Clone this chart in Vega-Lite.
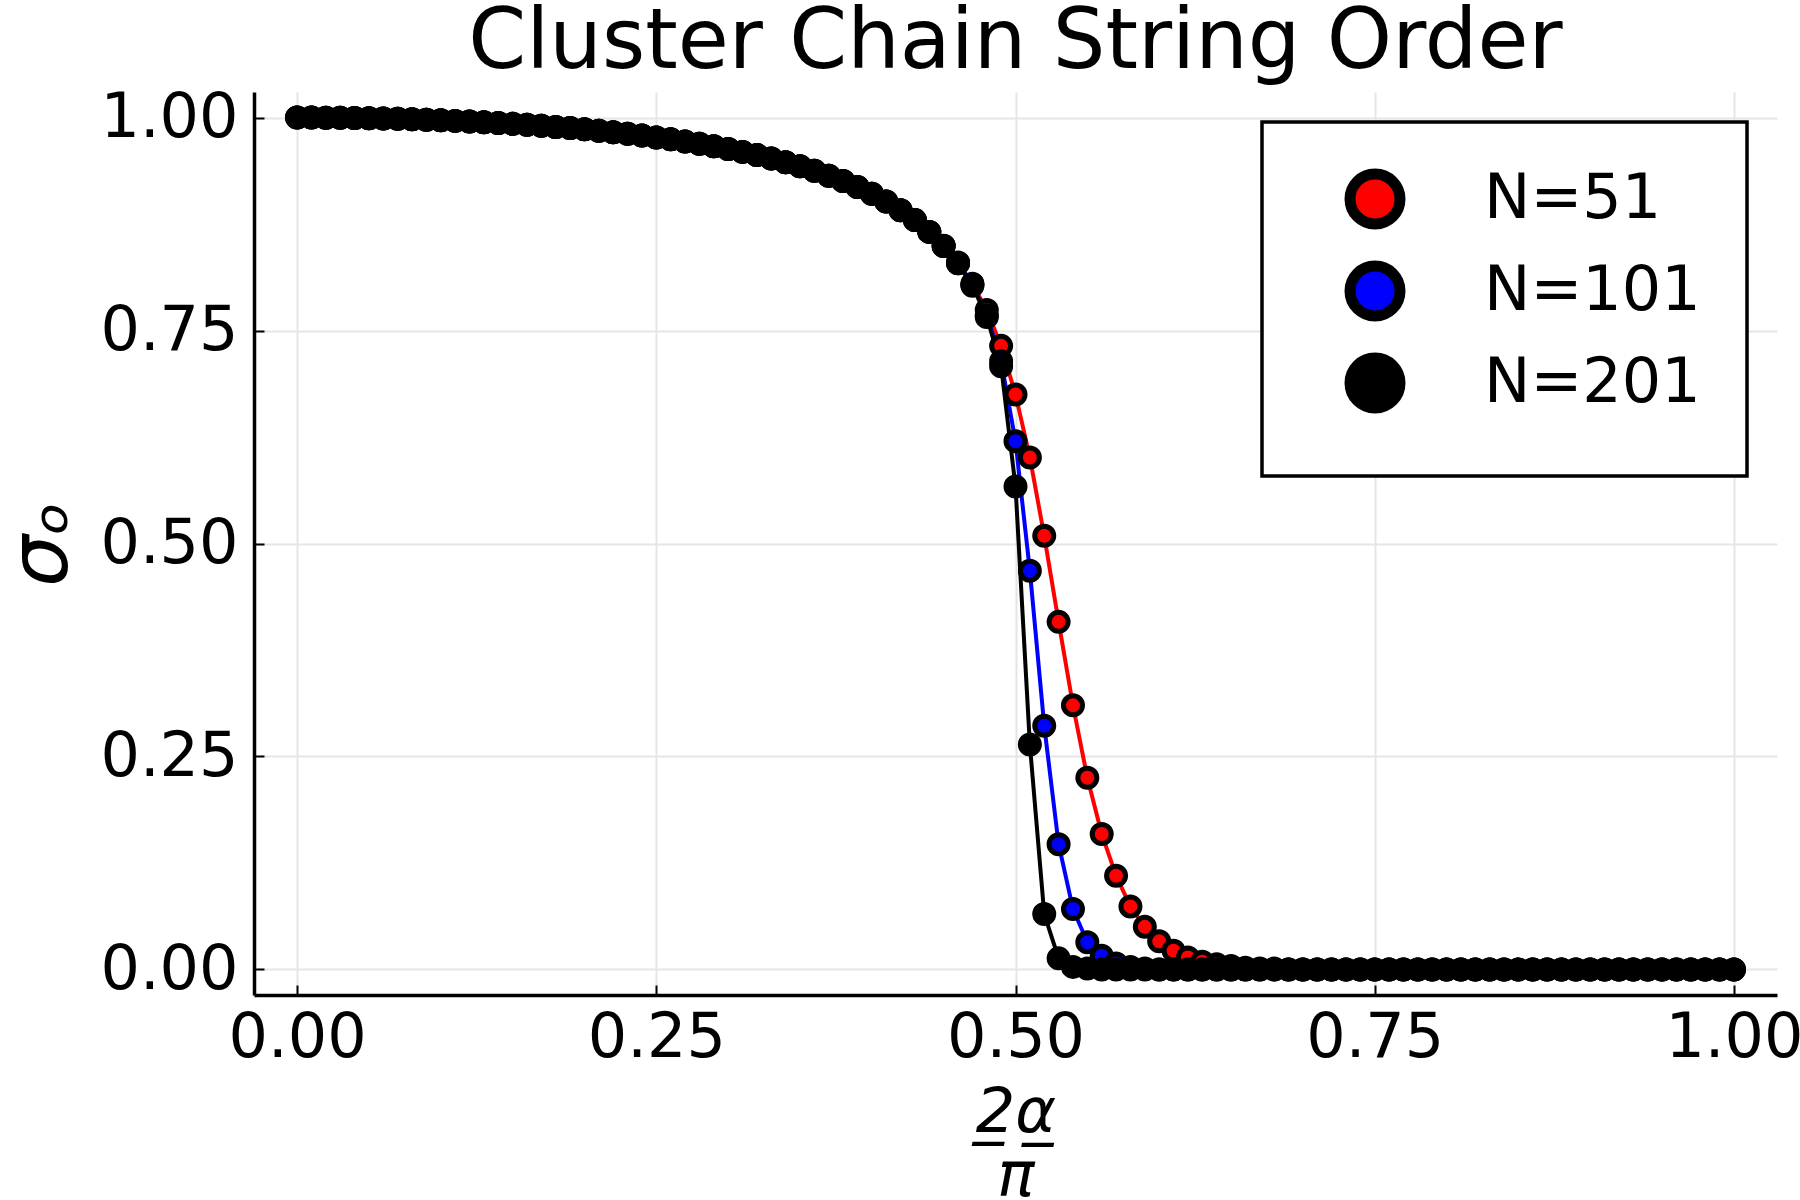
{
  "$schema": "https://vega.github.io/schema/vega-lite/v6.json",
  "description": "Cluster chain string order parameter vs 2alpha/pi for three chain lengths",
  "width": 1523,
  "height": 903,
  "autosize": "none",
  "padding": {"left": 254, "top": 92, "right": 23, "bottom": 205},
  "background": "white",
  "config": {
    "view": {"stroke": null},
    "font": "DejaVu Sans",
    "legend": {"strokeColor": "black", "strokeWidth": 3.5, "fillColor": "white", "cornerRadius": 0}
  },
  "title": {
    "text": "Cluster Chain String Order",
    "font": "DejaVu Sans",
    "fontSize": 83,
    "fontWeight": "normal",
    "color": "black",
    "anchor": "middle",
    "offset": 2
  },
  "data": {
    "values": [
      {"N":"N=51","x":0.00,"sigma":1},{"N":"N=51","x":0.01,"sigma":1},{"N":"N=51","x":0.02,"sigma":0.9999},{"N":"N=51","x":0.03,"sigma":0.9997},{"N":"N=51","x":0.04,"sigma":0.9995},
      {"N":"N=51","x":0.05,"sigma":0.9992},{"N":"N=51","x":0.06,"sigma":0.9989},{"N":"N=51","x":0.07,"sigma":0.9985},{"N":"N=51","x":0.08,"sigma":0.998},{"N":"N=51","x":0.09,"sigma":0.9974},
      {"N":"N=51","x":0.10,"sigma":0.9968},{"N":"N=51","x":0.11,"sigma":0.9961},{"N":"N=51","x":0.12,"sigma":0.9954},{"N":"N=51","x":0.13,"sigma":0.9945},{"N":"N=51","x":0.14,"sigma":0.9936},
      {"N":"N=51","x":0.15,"sigma":0.9926},{"N":"N=51","x":0.16,"sigma":0.9915},{"N":"N=51","x":0.17,"sigma":0.9903},{"N":"N=51","x":0.18,"sigma":0.989},{"N":"N=51","x":0.19,"sigma":0.9877},
      {"N":"N=51","x":0.20,"sigma":0.9862},{"N":"N=51","x":0.21,"sigma":0.9845},{"N":"N=51","x":0.22,"sigma":0.9828},{"N":"N=51","x":0.23,"sigma":0.9809},{"N":"N=51","x":0.24,"sigma":0.9789},
      {"N":"N=51","x":0.25,"sigma":0.9767},{"N":"N=51","x":0.26,"sigma":0.9744},{"N":"N=51","x":0.27,"sigma":0.9719},{"N":"N=51","x":0.28,"sigma":0.9692},{"N":"N=51","x":0.29,"sigma":0.9663},
      {"N":"N=51","x":0.30,"sigma":0.9631},{"N":"N=51","x":0.31,"sigma":0.9597},{"N":"N=51","x":0.32,"sigma":0.956},{"N":"N=51","x":0.33,"sigma":0.952},{"N":"N=51","x":0.34,"sigma":0.9476},
      {"N":"N=51","x":0.35,"sigma":0.9429},{"N":"N=51","x":0.36,"sigma":0.9376},{"N":"N=51","x":0.37,"sigma":0.9318},{"N":"N=51","x":0.38,"sigma":0.9255},{"N":"N=51","x":0.39,"sigma":0.9184},
      {"N":"N=51","x":0.40,"sigma":0.9105},{"N":"N=51","x":0.41,"sigma":0.9015},{"N":"N=51","x":0.42,"sigma":0.8913},{"N":"N=51","x":0.43,"sigma":0.8796},{"N":"N=51","x":0.44,"sigma":0.8658},
      {"N":"N=51","x":0.45,"sigma":0.8495},{"N":"N=51","x":0.46,"sigma":0.830},{"N":"N=51","x":0.47,"sigma":0.805},{"N":"N=51","x":0.48,"sigma":0.774},{"N":"N=51","x":0.49,"sigma":0.732},
      {"N":"N=51","x":0.50,"sigma":0.675},{"N":"N=51","x":0.51,"sigma":0.601},{"N":"N=51","x":0.52,"sigma":0.509},{"N":"N=51","x":0.53,"sigma":0.408},{"N":"N=51","x":0.54,"sigma":0.310},
      {"N":"N=51","x":0.55,"sigma":0.225},{"N":"N=51","x":0.56,"sigma":0.159},{"N":"N=51","x":0.57,"sigma":0.110},{"N":"N=51","x":0.58,"sigma":0.074},{"N":"N=51","x":0.59,"sigma":0.050},
      {"N":"N=51","x":0.60,"sigma":0.033},{"N":"N=51","x":0.61,"sigma":0.022},{"N":"N=51","x":0.62,"sigma":0.014},{"N":"N=51","x":0.63,"sigma":0.009},{"N":"N=51","x":0.64,"sigma":0.006},
      {"N":"N=51","x":0.65,"sigma":0.004},{"N":"N=51","x":0.66,"sigma":0.002},{"N":"N=51","x":0.67,"sigma":0.001},{"N":"N=51","x":0.68,"sigma":0.001},{"N":"N=51","x":0.69,"sigma":0},
      {"N":"N=51","x":0.70,"sigma":0},{"N":"N=51","x":0.71,"sigma":0},{"N":"N=51","x":0.72,"sigma":0},{"N":"N=51","x":0.73,"sigma":0},{"N":"N=51","x":0.74,"sigma":0},
      {"N":"N=51","x":0.75,"sigma":0},{"N":"N=51","x":0.76,"sigma":0},{"N":"N=51","x":0.77,"sigma":0},{"N":"N=51","x":0.78,"sigma":0},{"N":"N=51","x":0.79,"sigma":0},
      {"N":"N=51","x":0.80,"sigma":0},{"N":"N=51","x":0.81,"sigma":0},{"N":"N=51","x":0.82,"sigma":0},{"N":"N=51","x":0.83,"sigma":0},{"N":"N=51","x":0.84,"sigma":0},
      {"N":"N=51","x":0.85,"sigma":0},{"N":"N=51","x":0.86,"sigma":0},{"N":"N=51","x":0.87,"sigma":0},{"N":"N=51","x":0.88,"sigma":0},{"N":"N=51","x":0.89,"sigma":0},
      {"N":"N=51","x":0.90,"sigma":0},{"N":"N=51","x":0.91,"sigma":0},{"N":"N=51","x":0.92,"sigma":0},{"N":"N=51","x":0.93,"sigma":0},{"N":"N=51","x":0.94,"sigma":0},
      {"N":"N=51","x":0.95,"sigma":0},{"N":"N=51","x":0.96,"sigma":0},{"N":"N=51","x":0.97,"sigma":0},{"N":"N=51","x":0.98,"sigma":0},{"N":"N=51","x":0.99,"sigma":0},
      {"N":"N=51","x":1.00,"sigma":0},

      {"N":"N=101","x":0.00,"sigma":1},{"N":"N=101","x":0.01,"sigma":1},{"N":"N=101","x":0.02,"sigma":0.9999},{"N":"N=101","x":0.03,"sigma":0.9997},{"N":"N=101","x":0.04,"sigma":0.9995},
      {"N":"N=101","x":0.05,"sigma":0.9992},{"N":"N=101","x":0.06,"sigma":0.9989},{"N":"N=101","x":0.07,"sigma":0.9985},{"N":"N=101","x":0.08,"sigma":0.998},{"N":"N=101","x":0.09,"sigma":0.9974},
      {"N":"N=101","x":0.10,"sigma":0.9968},{"N":"N=101","x":0.11,"sigma":0.9961},{"N":"N=101","x":0.12,"sigma":0.9954},{"N":"N=101","x":0.13,"sigma":0.9945},{"N":"N=101","x":0.14,"sigma":0.9936},
      {"N":"N=101","x":0.15,"sigma":0.9926},{"N":"N=101","x":0.16,"sigma":0.9915},{"N":"N=101","x":0.17,"sigma":0.9903},{"N":"N=101","x":0.18,"sigma":0.989},{"N":"N=101","x":0.19,"sigma":0.9877},
      {"N":"N=101","x":0.20,"sigma":0.9862},{"N":"N=101","x":0.21,"sigma":0.9845},{"N":"N=101","x":0.22,"sigma":0.9828},{"N":"N=101","x":0.23,"sigma":0.9809},{"N":"N=101","x":0.24,"sigma":0.9789},
      {"N":"N=101","x":0.25,"sigma":0.9767},{"N":"N=101","x":0.26,"sigma":0.9744},{"N":"N=101","x":0.27,"sigma":0.9719},{"N":"N=101","x":0.28,"sigma":0.9692},{"N":"N=101","x":0.29,"sigma":0.9663},
      {"N":"N=101","x":0.30,"sigma":0.9631},{"N":"N=101","x":0.31,"sigma":0.9597},{"N":"N=101","x":0.32,"sigma":0.956},{"N":"N=101","x":0.33,"sigma":0.952},{"N":"N=101","x":0.34,"sigma":0.9476},
      {"N":"N=101","x":0.35,"sigma":0.9429},{"N":"N=101","x":0.36,"sigma":0.9376},{"N":"N=101","x":0.37,"sigma":0.9318},{"N":"N=101","x":0.38,"sigma":0.9255},{"N":"N=101","x":0.39,"sigma":0.9184},
      {"N":"N=101","x":0.40,"sigma":0.9105},{"N":"N=101","x":0.41,"sigma":0.9015},{"N":"N=101","x":0.42,"sigma":0.8913},{"N":"N=101","x":0.43,"sigma":0.8796},{"N":"N=101","x":0.44,"sigma":0.8658},
      {"N":"N=101","x":0.45,"sigma":0.8493},{"N":"N=101","x":0.46,"sigma":0.829},{"N":"N=101","x":0.47,"sigma":0.804},{"N":"N=101","x":0.48,"sigma":0.768},{"N":"N=101","x":0.49,"sigma":0.714},
      {"N":"N=101","x":0.50,"sigma":0.620},{"N":"N=101","x":0.51,"sigma":0.468},{"N":"N=101","x":0.52,"sigma":0.286},{"N":"N=101","x":0.53,"sigma":0.147},{"N":"N=101","x":0.54,"sigma":0.071},
      {"N":"N=101","x":0.55,"sigma":0.032},{"N":"N=101","x":0.56,"sigma":0.016},{"N":"N=101","x":0.57,"sigma":0.007},{"N":"N=101","x":0.58,"sigma":0.003},{"N":"N=101","x":0.59,"sigma":0.001},
      {"N":"N=101","x":0.60,"sigma":0},{"N":"N=101","x":0.61,"sigma":0},{"N":"N=101","x":0.62,"sigma":0},{"N":"N=101","x":0.63,"sigma":0},{"N":"N=101","x":0.64,"sigma":0},
      {"N":"N=101","x":0.65,"sigma":0},{"N":"N=101","x":0.66,"sigma":0},{"N":"N=101","x":0.67,"sigma":0},{"N":"N=101","x":0.68,"sigma":0},{"N":"N=101","x":0.69,"sigma":0},
      {"N":"N=101","x":0.70,"sigma":0},{"N":"N=101","x":0.71,"sigma":0},{"N":"N=101","x":0.72,"sigma":0},{"N":"N=101","x":0.73,"sigma":0},{"N":"N=101","x":0.74,"sigma":0},
      {"N":"N=101","x":0.75,"sigma":0},{"N":"N=101","x":0.76,"sigma":0},{"N":"N=101","x":0.77,"sigma":0},{"N":"N=101","x":0.78,"sigma":0},{"N":"N=101","x":0.79,"sigma":0},
      {"N":"N=101","x":0.80,"sigma":0},{"N":"N=101","x":0.81,"sigma":0},{"N":"N=101","x":0.82,"sigma":0},{"N":"N=101","x":0.83,"sigma":0},{"N":"N=101","x":0.84,"sigma":0},
      {"N":"N=101","x":0.85,"sigma":0},{"N":"N=101","x":0.86,"sigma":0},{"N":"N=101","x":0.87,"sigma":0},{"N":"N=101","x":0.88,"sigma":0},{"N":"N=101","x":0.89,"sigma":0},
      {"N":"N=101","x":0.90,"sigma":0},{"N":"N=101","x":0.91,"sigma":0},{"N":"N=101","x":0.92,"sigma":0},{"N":"N=101","x":0.93,"sigma":0},{"N":"N=101","x":0.94,"sigma":0},
      {"N":"N=101","x":0.95,"sigma":0},{"N":"N=101","x":0.96,"sigma":0},{"N":"N=101","x":0.97,"sigma":0},{"N":"N=101","x":0.98,"sigma":0},{"N":"N=101","x":0.99,"sigma":0},
      {"N":"N=101","x":1.00,"sigma":0},

      {"N":"N=201","x":0.00,"sigma":1},{"N":"N=201","x":0.01,"sigma":1},{"N":"N=201","x":0.02,"sigma":0.9999},{"N":"N=201","x":0.03,"sigma":0.9997},{"N":"N=201","x":0.04,"sigma":0.9995},
      {"N":"N=201","x":0.05,"sigma":0.9992},{"N":"N=201","x":0.06,"sigma":0.9989},{"N":"N=201","x":0.07,"sigma":0.9985},{"N":"N=201","x":0.08,"sigma":0.998},{"N":"N=201","x":0.09,"sigma":0.9974},
      {"N":"N=201","x":0.10,"sigma":0.9968},{"N":"N=201","x":0.11,"sigma":0.9961},{"N":"N=201","x":0.12,"sigma":0.9954},{"N":"N=201","x":0.13,"sigma":0.9945},{"N":"N=201","x":0.14,"sigma":0.9936},
      {"N":"N=201","x":0.15,"sigma":0.9926},{"N":"N=201","x":0.16,"sigma":0.9915},{"N":"N=201","x":0.17,"sigma":0.9903},{"N":"N=201","x":0.18,"sigma":0.989},{"N":"N=201","x":0.19,"sigma":0.9877},
      {"N":"N=201","x":0.20,"sigma":0.9862},{"N":"N=201","x":0.21,"sigma":0.9845},{"N":"N=201","x":0.22,"sigma":0.9828},{"N":"N=201","x":0.23,"sigma":0.9809},{"N":"N=201","x":0.24,"sigma":0.9789},
      {"N":"N=201","x":0.25,"sigma":0.9767},{"N":"N=201","x":0.26,"sigma":0.9744},{"N":"N=201","x":0.27,"sigma":0.9719},{"N":"N=201","x":0.28,"sigma":0.9692},{"N":"N=201","x":0.29,"sigma":0.9663},
      {"N":"N=201","x":0.30,"sigma":0.9631},{"N":"N=201","x":0.31,"sigma":0.9597},{"N":"N=201","x":0.32,"sigma":0.956},{"N":"N=201","x":0.33,"sigma":0.952},{"N":"N=201","x":0.34,"sigma":0.9476},
      {"N":"N=201","x":0.35,"sigma":0.9429},{"N":"N=201","x":0.36,"sigma":0.9376},{"N":"N=201","x":0.37,"sigma":0.9318},{"N":"N=201","x":0.38,"sigma":0.9255},{"N":"N=201","x":0.39,"sigma":0.9184},
      {"N":"N=201","x":0.40,"sigma":0.9105},{"N":"N=201","x":0.41,"sigma":0.9015},{"N":"N=201","x":0.42,"sigma":0.8913},{"N":"N=201","x":0.43,"sigma":0.8796},{"N":"N=201","x":0.44,"sigma":0.8658},
      {"N":"N=201","x":0.45,"sigma":0.8492},{"N":"N=201","x":0.46,"sigma":0.8289},{"N":"N=201","x":0.47,"sigma":0.8025},{"N":"N=201","x":0.48,"sigma":0.766},{"N":"N=201","x":0.49,"sigma":0.708},
      {"N":"N=201","x":0.50,"sigma":0.567},{"N":"N=201","x":0.51,"sigma":0.264},{"N":"N=201","x":0.52,"sigma":0.065},{"N":"N=201","x":0.53,"sigma":0.013},{"N":"N=201","x":0.54,"sigma":0.003},
      {"N":"N=201","x":0.55,"sigma":0.001},{"N":"N=201","x":0.56,"sigma":0},{"N":"N=201","x":0.57,"sigma":0},{"N":"N=201","x":0.58,"sigma":0},{"N":"N=201","x":0.59,"sigma":0},
      {"N":"N=201","x":0.60,"sigma":0},{"N":"N=201","x":0.61,"sigma":0},{"N":"N=201","x":0.62,"sigma":0},{"N":"N=201","x":0.63,"sigma":0},{"N":"N=201","x":0.64,"sigma":0},
      {"N":"N=201","x":0.65,"sigma":0},{"N":"N=201","x":0.66,"sigma":0},{"N":"N=201","x":0.67,"sigma":0},{"N":"N=201","x":0.68,"sigma":0},{"N":"N=201","x":0.69,"sigma":0},
      {"N":"N=201","x":0.70,"sigma":0},{"N":"N=201","x":0.71,"sigma":0},{"N":"N=201","x":0.72,"sigma":0},{"N":"N=201","x":0.73,"sigma":0},{"N":"N=201","x":0.74,"sigma":0},
      {"N":"N=201","x":0.75,"sigma":0},{"N":"N=201","x":0.76,"sigma":0},{"N":"N=201","x":0.77,"sigma":0},{"N":"N=201","x":0.78,"sigma":0},{"N":"N=201","x":0.79,"sigma":0},
      {"N":"N=201","x":0.80,"sigma":0},{"N":"N=201","x":0.81,"sigma":0},{"N":"N=201","x":0.82,"sigma":0},{"N":"N=201","x":0.83,"sigma":0},{"N":"N=201","x":0.84,"sigma":0},
      {"N":"N=201","x":0.85,"sigma":0},{"N":"N=201","x":0.86,"sigma":0},{"N":"N=201","x":0.87,"sigma":0},{"N":"N=201","x":0.88,"sigma":0},{"N":"N=201","x":0.89,"sigma":0},
      {"N":"N=201","x":0.90,"sigma":0},{"N":"N=201","x":0.91,"sigma":0},{"N":"N=201","x":0.92,"sigma":0},{"N":"N=201","x":0.93,"sigma":0},{"N":"N=201","x":0.94,"sigma":0},
      {"N":"N=201","x":0.95,"sigma":0},{"N":"N=201","x":0.96,"sigma":0},{"N":"N=201","x":0.97,"sigma":0},{"N":"N=201","x":0.98,"sigma":0},{"N":"N=201","x":0.99,"sigma":0},
      {"N":"N=201","x":1.00,"sigma":0}
    ]
  },
  "encoding": {
    "x": {
      "field": "x",
      "type": "quantitative",
      "scale": {"domain": [-0.03, 1.03], "nice": false, "zero": false},
      "axis": {
        "values": [0, 0.25, 0.5, 0.75, 1],
        "format": ".2f",
        "labelFont": "DejaVu Sans",
        "labelFontSize": 62,
        "labelColor": "black",
        "labelFlush": false,
        "labelOverlap": false,
        "labelPadding": 22,
        "domainColor": "black",
        "domainWidth": 3.5,
        "tickColor": "black",
        "tickWidth": 2,
        "tickSize": -10,
        "grid": true,
        "gridColor": "#e5e5e5",
        "gridWidth": 2,
        "title": ["2̲α̲", "π"],
        "titleFont": "DejaVu Sans",
        "titleFontStyle": "italic",
        "titleFontWeight": "normal",
        "titleFontSize": 62,
        "titleLineHeight": 64,
        "titleColor": "black",
        "titlePadding": 14
      }
    },
    "y": {
      "field": "sigma",
      "type": "quantitative",
      "scale": {"domain": [-0.03, 1.03], "nice": false, "zero": false},
      "axis": {
        "values": [0, 0.25, 0.5, 0.75, 1],
        "format": ".2f",
        "labelFont": "DejaVu Sans",
        "labelFontSize": 62,
        "labelColor": "black",
        "labelFlush": false,
        "labelOverlap": false,
        "labelPadding": 26,
        "domainColor": "black",
        "domainWidth": 3.5,
        "tickColor": "black",
        "tickWidth": 2,
        "tickSize": -10,
        "grid": true,
        "gridColor": "#e5e5e5",
        "gridWidth": 2,
        "title": "σₒ",
        "titleFont": "DejaVu Sans",
        "titleFontStyle": "italic",
        "titleFontWeight": "normal",
        "titleFontSize": 82,
        "titleColor": "black",
        "titlePadding": 16
      }
    }
  },
  "layer": [
    {
      "transform": [{"filter": "datum.N === 'N=51'"}],
      "mark": {"type": "line", "strokeWidth": 4, "color": "#ff0000"},
      "encoding": {}
    },
    {
      "transform": [{"filter": "datum.N === 'N=101'"}],
      "mark": {"type": "line", "strokeWidth": 4, "color": "#0000ff"},
      "encoding": {}
    },
    {
      "transform": [{"filter": "datum.N === 'N=201'"}],
      "mark": {"type": "line", "strokeWidth": 4, "color": "#000000"},
      "encoding": {}
    },
    {
      "mark": {"type": "point", "shape": "circle", "filled": true, "size": 361, "stroke": "black", "strokeWidth": 5, "opacity": 1},
      "encoding": {
        "fill": {
          "field": "N",
          "type": "nominal",
          "sort": null,
          "scale": {"domain": ["N=51", "N=101", "N=201"], "range": ["#ff0000", "#0000ff", "#000000"]},
          "legend": {
            "title": null,
            "orient": "top-right",
            "offset": 30,
            "padding": 46,
            "labelFont": "DejaVu Sans",
            "labelFontSize": 62,
            "labelColor": "black",
            "labelLimit": 500,
            "symbolType": "circle",
            "symbolSize": 2500,
            "symbolStrokeColor": "black",
            "symbolStrokeWidth": 11,
            "symbolOpacity": 1,
            "symbolOffset": 36,
            "labelOffset": 78,
            "rowPadding": -2
          }
        }
      }
    }
  ]
}
